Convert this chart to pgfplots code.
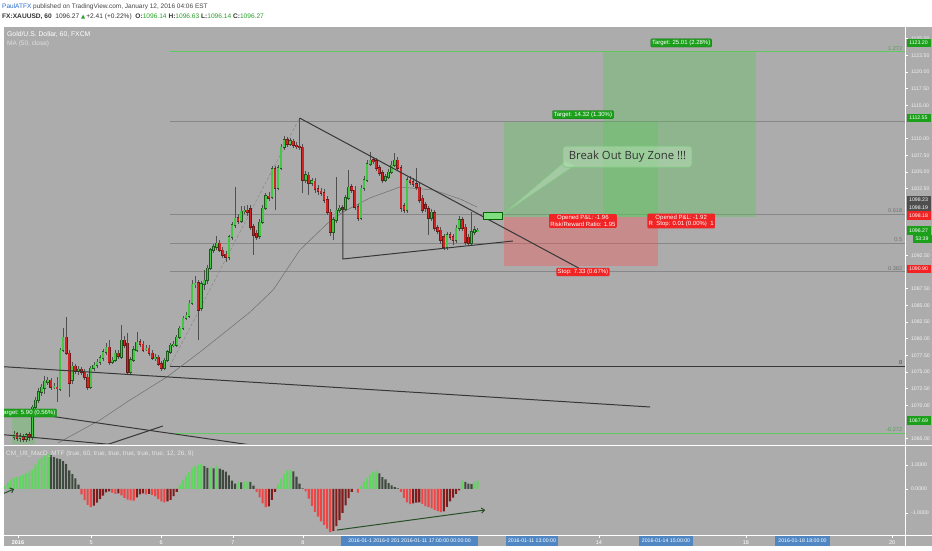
\documentclass[border=0pt]{standalone}
\usepackage{pgfplots}
\pgfplotsset{compat=1.18}
\usepackage{pgfplotstable}
\usepackage{fontspec}
\setmainfont{Liberation Sans}
\newfontfamily\dejavu{DejaVu Sans}
\newfontfamily\opensans{Open Sans}
\usetikzlibrary{arrows.meta}

\definecolor{chartbg}{RGB}{172,172,172}
\definecolor{candup}{RGB}{66,200,66}
\definecolor{canddn}{RGB}{210,36,36}
\definecolor{candupedge}{RGB}{30,90,30}
\definecolor{canddnedge}{RGB}{110,25,25}
\definecolor{wick}{RGB}{80,80,80}
\definecolor{maline}{RGB}{110,110,110}
\definecolor{trend}{RGB}{55,55,55}
\definecolor{fibgray}{RGB}{135,135,135}
\definecolor{fibgreen}{RGB}{96,200,96}
\definecolor{boxgreen}{RGB}{90,200,90}
\definecolor{boxred}{RGB}{255,80,80}
\definecolor{lblgreen}{RGB}{28,160,28}
\definecolor{lblred}{RGB}{240,36,36}
\definecolor{lbldark}{RGB}{78,78,78}
\definecolor{mgreen}{RGB}{96,214,96}
\definecolor{mdark}{RGB}{62,74,62}
\definecolor{mred}{RGB}{236,70,70}
\definecolor{mdred}{RGB}{128,28,28}
\definecolor{tvblue}{RGB}{40,110,200}
\definecolor{hdrtext}{RGB}{70,70,70}
\definecolor{txtgreen}{RGB}{40,160,40}
\definecolor{dateblue}{RGB}{80,135,195}
\definecolor{zonefill}{RGB}{180,220,180}
\definecolor{zoneedge}{RGB}{130,200,130}
\definecolor{arrowgreen}{RGB}{40,80,40}

% hourly XAUUSD bars, i = bar number
\pgfplotstableread{
i o h l c
1 1065.25 1066.15 1064.8 1065.7
2 1065.7 1066.0 1064.65 1065.1
3 1065.1 1065.85 1064.5 1065.4
4 1065.4 1065.7 1064.5 1064.95
5 1064.95 1065.85 1064.5 1065.55
6 1065.55 1066.0 1064.65 1065.25
7 1065.25 1070.05 1064.8 1069.75
8 1069.75 1071.25 1069.3 1070.8
9 1070.8 1072.6 1070.35 1072.0
10 1072.0 1073.2 1071.4 1072.75
11 1072.6 1074.4 1071.7 1073.65
12 1073.5 1074.25 1073.05 1073.8
13 1073.8 1074.1 1072.3 1072.75
14 1072.75 1073.35 1072.45 1072.9
15 1072.75 1074.25 1070.5 1072.6
16 1072.45 1078.6 1072.15 1078.3
17 1078.3 1081.6 1078.0 1080.25
18 1080.25 1083.25 1077.55 1077.85
19 1077.85 1078.3 1071.25 1073.35
20 1073.8 1076.5 1073.2 1075.9
21 1075.9 1076.2 1074.7 1075.15
22 1075.15 1075.9 1074.55 1075.45
23 1075.45 1075.75 1074.55 1075.0
24 1075.0 1075.45 1073.8 1074.25
25 1074.25 1074.7 1072.3 1072.75
26 1072.75 1075.9 1072.45 1075.6
27 1075.6 1076.5 1075.15 1076.05
28 1076.05 1076.95 1075.6 1076.5
29 1076.5 1077.55 1076.05 1077.1
30 1077.1 1078.45 1076.65 1078.0
31 1078.0 1079.35 1077.55 1078.75
32 1078.75 1079.8 1076.05 1076.5
33 1076.5 1077.25 1076.2 1076.8
34 1076.8 1078.3 1076.5 1077.85
35 1077.85 1078.3 1076.95 1077.4
36 1077.25 1082.05 1076.95 1079.8
37 1079.8 1080.4 1078.6 1079.05
38 1079.35 1080.85 1074.55 1075.0
39 1075.0 1077.25 1074.7 1076.8
40 1076.8 1078.9 1076.5 1078.3
41 1078.3 1081.0 1078.0 1079.5
42 1079.5 1079.95 1078.75 1079.2
43 1079.2 1079.65 1078.0 1078.3
44 1078.45 1079.05 1078.15 1078.6
45 1078.6 1079.05 1077.4 1077.85
46 1077.85 1078.3 1076.8 1077.1
47 1077.1 1077.7 1076.65 1077.25
48 1077.25 1077.55 1075.9 1076.2
49 1076.2 1076.65 1075.15 1075.6
50 1075.6 1077.1 1075.3 1076.8
51 1076.8 1078.3 1076.5 1078.0
52 1078.0 1079.35 1077.7 1079.05
53 1079.05 1079.65 1078.75 1079.2
54 1079.05 1080.55 1078.75 1080.25
55 1080.25 1081.9 1079.95 1081.6
56 1081.6 1083.4 1081.3 1083.1
57 1083.1 1084.0 1082.8 1083.55
58 1083.4 1085.8 1083.1 1085.35
59 1085.35 1088.8 1085.05 1088.2
60 1088.2 1089.4 1087.6 1088.35
61 1088.35 1088.8 1079.8 1084.3
62 1084.6 1088.65 1084.15 1088.2
63 1088.2 1090.3 1087.3 1088.8
64 1088.8 1091.05 1088.2 1090.6
65 1090.6 1093.6 1090.3 1093.3
66 1093.3 1094.2 1092.85 1093.75
67 1093.75 1095.4 1093.3 1094.35
68 1094.35 1094.8 1093.0 1093.3
69 1093.3 1093.75 1092.1 1092.55
70 1092.7 1093.15 1091.5 1092.25
71 1092.25 1095.55 1091.8 1095.25
72 1095.25 1097.5 1094.8 1097.05
73 1097.05 1102.75 1096.6 1098.1
74 1098.1 1098.7 1097.2 1097.65
75 1097.65 1099.9 1097.35 1099.15
76 1099.15 1099.9 1098.7 1099.3
77 1099.3 1100.05 1098.4 1099.0
78 1099.45 1100.05 1096.3 1096.75
79 1096.75 1097.2 1092.55 1095.55
80 1095.85 1096.3 1094.8 1095.25
81 1095.4 1097.95 1094.95 1097.5
82 1097.5 1100.05 1097.2 1099.6
83 1099.6 1101.85 1099.3 1101.4
84 1101.4 1102.0 1100.65 1101.1
85 1101.25 1105.9 1100.95 1105.45
86 1105.45 1105.9 1099.3 1102.6
87 1102.6 1106.05 1102.3 1105.6
88 1105.6 1109.2 1105.3 1108.75
89 1108.75 1110.4 1108.3 1109.8
90 1109.8 1110.25 1108.75 1109.2
91 1109.2 1110.1 1108.9 1109.65
92 1109.65 1109.95 1108.6 1109.05
93 1109.05 1109.5 1108.45 1108.9
94 1108.9 1113.1 1108.3 1108.75
95 1108.75 1109.2 1101.85 1103.8
96 1103.8 1105.15 1103.35 1104.55
97 1104.55 1105.0 1101.55 1103.35
98 1103.35 1104.1 1102.9 1103.65
99 1103.65 1104.1 1101.85 1102.45
100 1102.45 1103.05 1101.55 1102.15
101 1102.15 1102.6 1101.4 1101.85
102 1101.85 1102.45 1100.35 1100.8
103 1100.8 1101.4 1098.55 1099.0
104 1099.0 1099.45 1095.4 1096.0
105 1096.0 1098.25 1094.8 1097.8
106 1097.8 1104.25 1097.35 1099.3
107 1099.3 1100.05 1098.85 1099.6
108 1099.6 1100.05 1099.0 1099.45
109 1099.45 1101.55 1099.15 1101.1
110 1101.1 1105.3 1100.8 1102.75
111 1102.75 1103.2 1101.85 1102.3
112 1102.3 1102.9 1099.3 1099.75
113 1099.75 1100.2 1097.65 1098.1
114 1098.1 1103.05 1097.8 1102.6
115 1102.6 1104.4 1102.15 1103.8
116 1103.8 1106.8 1103.5 1106.2
117 1106.2 1108.0 1105.9 1106.8
118 1106.8 1107.25 1106.2 1106.65
119 1106.65 1107.1 1105.15 1105.6
120 1105.6 1106.05 1104.4 1104.85
121 1104.85 1105.3 1103.35 1103.8
122 1103.8 1104.7 1103.5 1104.25
123 1104.25 1105.45 1103.95 1105.0
124 1105.0 1106.65 1104.7 1106.05
125 1106.05 1107.85 1105.75 1106.8
126 1106.8 1107.25 1105.15 1105.6
127 1105.6 1106.05 1099.0 1099.6
128 1099.9 1100.35 1098.85 1099.3
129 1099.3 1104.25 1098.85 1103.8
130 1103.8 1104.4 1103.05 1103.5
131 1103.5 1104.1 1102.75 1103.2
132 1103.2 1105.6 1102.3 1102.75
133 1102.75 1103.35 1100.35 1100.8
134 1101.1 1101.55 1098.85 1099.3
135 1100.05 1100.5 1099.0 1099.6
136 1099.45 1099.9 1095.55 1098.1
137 1098.1 1099.45 1097.65 1099.0
138 1098.85 1099.3 1096.15 1096.6
139 1096.6 1097.05 1095.7 1096.15
140 1096.3 1096.75 1094.2 1094.8
141 1095.25 1095.7 1093.3 1093.75
142 1093.75 1096.0 1093.3 1095.55
143 1095.55 1096.0 1094.8 1095.25
144 1095.25 1095.7 1094.05 1094.8
145 1094.8 1097.05 1094.35 1096.6
146 1096.6 1098.4 1096.15 1097.8
147 1097.8 1098.25 1096.15 1096.6
148 1096.75 1097.2 1094.05 1094.5
149 1095.25 1095.7 1093.9 1094.35
150 1094.35 1099.0 1094.05 1096.0
151 1096.0 1096.9 1095.55 1096.3
152 1096.14 1096.63 1096.14 1096.27
}\candles

% MACD histogram, k: 1 up>0, 2 down>0, 3 down<0, 4 up<0
\pgfplotstableread{
i v k
-2 0.15 1
-1 0.28 1
0 0.40 1
1 0.47 1
2 0.51 1
3 0.54 1
4 0.60 1
5 0.66 1
6 0.74 1
7 0.82 1
8 1.02 1
9 1.22 1
10 1.30 1
11 1.38 1
12 1.45 1
13 1.41 2
14 1.33 2
15 1.28 2
16 1.25 2
17 1.16 2
18 1.05 2
19 0.78 2
20 0.62 2
21 0.44 2
22 0.18 2
23 -0.22 3
24 -0.46 3
25 -0.66 3
26 -0.76 3
27 -0.69 4
28 -0.57 4
29 -0.42 4
30 -0.28 4
31 -0.14 4
32 -0.10 4
33 -0.15 3
34 -0.20 3
35 -0.18 4
36 -0.27 3
37 -0.37 3
38 -0.44 3
39 -0.47 3
40 -0.48 3
41 -0.35 4
42 -0.22 4
43 -0.18 4
44 -0.22 3
45 -0.20 4
46 -0.25 3
47 -0.31 3
48 -0.42 3
49 -0.52 3
50 -0.56 3
51 -0.52 4
52 -0.45 4
53 -0.30 4
54 -0.12 4
55 0.17 1
56 0.37 1
57 0.56 1
58 0.71 1
59 0.86 1
60 0.96 1
61 1.00 1
62 1.04 1
63 0.95 2
64 0.88 2
65 0.90 1
66 0.86 2
67 0.97 1
68 0.85 2
69 0.80 2
70 0.72 2
71 0.57 2
72 0.35 2
73 0.22 2
74 0.30 1
75 0.28 2
76 0.30 1
77 0.32 1
78 0.30 2
79 0.14 2
80 -0.12 3
81 -0.35 3
82 -0.60 3
83 -0.76 3
84 -0.72 4
85 -0.45 4
86 -0.12 4
87 0.18 1
88 0.42 1
89 0.63 1
90 0.77 1
91 0.80 1
92 0.73 2
93 0.52 2
94 0.22 2
95 0.03 2
96 -0.10 3
97 -0.40 3
98 -0.70 3
99 -0.95 3
100 -1.15 3
101 -1.35 3
102 -1.50 3
103 -1.65 3
104 -1.80 3
105 -1.75 4
106 -1.55 4
107 -1.30 4
108 -1.00 4
109 -0.68 4
110 -0.38 4
111 -0.12 4
113 -0.15 3
114 0.12 1
115 0.30 1
116 0.45 1
117 0.60 1
118 0.70 1
119 0.76 1
120 0.65 2
121 0.50 2
122 0.40 2
123 0.25 2
124 0.15 2
125 0.08 2
126 0.03 2
127 -0.12 3
128 -0.37 3
129 -0.56 3
130 -0.63 3
131 -0.60 4
132 -0.57 4
133 -0.56 4
134 -0.62 3
135 -0.71 3
136 -0.76 3
137 -0.81 3
138 -0.87 3
139 -0.92 3
140 -0.96 3
141 -0.93 4
142 -0.75 4
143 -0.52 4
144 -0.36 4
145 -0.20 4
146 -0.06 4
147 0.35 1
148 0.30 2
149 0.22 2
150 0.20 2
151 0.30 1
152 0.35 1
}\macd

\tikzset{
  pl/.style={font=\fontsize{5.2}{6}\selectfont, text=white, inner sep=0pt,
    minimum width=24pt, minimum height=8.5pt, anchor=center},
  tgt/.style={fill=lblgreen, draw=lblgreen!70!black, line width=0.3pt, rounded corners=1pt,
    text=white, font=\fontsize{6}{7}\selectfont, inner sep=1.3pt},
  stp/.style={fill=lblred, rounded corners=1pt, text=white,
    font=\fontsize{6}{6.6}\selectfont, inner sep=1.3pt, align=center},
  fibl/.style={font=\fontsize{5.6}{6}\selectfont, anchor=south east, inner sep=0.8pt},
  datebox/.style={fill=dateblue, text=white, font=\fontsize{5.2}{6}\selectfont,
    inner sep=1pt, minimum height=9.5pt, anchor=center},
}
\pgfplotsset{
  candle/.style={forget plot, draw=none, mark=none,
    error bars/y dir=both, error bars/y explicit, error bars/error mark=none},
}

\begin{document}
\begin{tikzpicture}
\fill[white] (0pt,0pt) rectangle (932pt,550pt);
\fill[chartbg] (3pt,4pt) rectangle (932pt,523pt);
\useasboundingbox (0pt,0pt) rectangle (932pt,550pt);

% ---------------- price panel ----------------
\begin{axis}[
    at={(3pt,107pt)}, anchor=south west,
    width=902pt, height=416pt, scale only axis,
    xmin=-2.58, xmax=291.2, ymin=1064.35, ymax=1126.75,
    axis line style={draw=none},
    xtick=\empty,
    ytick={1065,1070,1072.5,1075,1077.5,1080,1082.5,1085,1087.5,1092.5,1102.5,1105,1107.5,1110,1115,1117.5,1120,1122.5,1125},
    ytick pos=right, yticklabel pos=right, scaled y ticks=false,
    tick align=outside, major tick length=2.5pt, tick style={white, line width=0.5pt},
    yticklabel style={font=\fontsize{5.2}{6}\selectfont, text=white!95!black,
      /pgf/number format/fixed, /pgf/number format/fixed zerofill,
      /pgf/number format/precision=2, /pgf/number format/1000 sep={},
      /pgf/number format/assume math mode=true},
]
% fibonacci levels
\addplot[fibgreen, line width=1pt] coordinates {(51.8,1123.0) (291.2,1123.0)};
\addplot[fibgray, line width=0.6pt] coordinates {(51.8,1112.55) (291.2,1112.55)};
\addplot[fibgray, line width=0.6pt] coordinates {(51.8,1098.7) (291.2,1098.7)};
\addplot[fibgray, line width=0.6pt] coordinates {(51.8,1094.35) (291.2,1094.35)};
\addplot[fibgray, line width=0.6pt] coordinates {(51.8,1090.1) (291.2,1090.1)};
\addplot[trend, line width=1pt] coordinates {(51.8,1075.9) (291.2,1075.9)};
\addplot[fibgreen, line width=1pt] coordinates {(51.8,1065.85) (291.2,1065.85)};
\addplot[fibgray, line width=0.5pt, densely dashed] coordinates {(51.8,1075.9) (94,1113.1)};
\node[fibl, text=fibgreen!80!black] at (290.6,1123.0) {1.272};
\node[fibl, text=black!55] at (290.6,1098.7) {0.618};
\node[fibl, text=black!55] at (290.6,1094.35) {0.5};
\node[fibl, text=black!55] at (290.6,1090.1) {0.382};
\node[fibl, text=black!75] at (290.6,1075.9) {0};
\node[fibl, text=fibgreen!80!black] at (290.6,1065.85) {-0.272};

% long position boxes
\addplot[draw=none, fill=boxgreen, fill opacity=0.35] coordinates {(0.35,1064.2) (7.8,1064.2) (7.8,1068.1) (0.35,1068.1)} -- cycle;
\addplot[draw=none, fill=boxgreen, fill opacity=0.35] coordinates {(160.6,1098.18) (210.8,1098.18) (210.8,1112.5) (160.6,1112.5)} -- cycle;
\addplot[draw=none, fill=boxred, fill opacity=0.35] coordinates {(160.6,1090.85) (210.8,1090.85) (210.8,1098.18) (160.6,1098.18)} -- cycle;
\addplot[draw=none, fill=boxgreen, fill opacity=0.35] coordinates {(192.9,1098.18) (242.7,1098.18) (242.7,1123.19) (192.9,1123.19)} -- cycle;

% moving average (50, close)
\addplot[maline, line width=0.5pt] coordinates {
  (15.3,1064.35) (29.0,1067.8) (38.8,1070.8) (50.8,1074.25) (61.6,1078.0)
  (71.4,1081.6) (77.9,1084.0) (85.4,1087.3) (94.1,1093.3) (103.9,1097.65)
  (108.2,1099.0) (116.9,1101.1) (126.7,1102.75) (137.5,1102.3) (146.3,1100.95) (151.8,1099.75)};

% candles: wicks, body edges, body fills
\addplot[candle, error bars/error bar style={line width=0.6pt, draw=wick}]
  table[x=i, y expr={(\thisrow{h}+\thisrow{l})/2}, y error expr={(\thisrow{h}-\thisrow{l})/2}] {\candles};
\addplot[candle, restrict expr to domain={\thisrow{c}-\thisrow{o}}{0:100},
  error bars/error bar style={line width=2.7pt, draw=candupedge}]
  table[x=i, y expr={(\thisrow{o}+\thisrow{c})/2}, y error expr={abs(\thisrow{c}-\thisrow{o})/2+0.08}] {\candles};
\addplot[candle, restrict expr to domain={\thisrow{c}-\thisrow{o}}{-100:-0.001},
  error bars/error bar style={line width=2.7pt, draw=canddnedge}]
  table[x=i, y expr={(\thisrow{o}+\thisrow{c})/2}, y error expr={abs(\thisrow{c}-\thisrow{o})/2+0.08}] {\candles};
\addplot[candle, restrict expr to domain={\thisrow{c}-\thisrow{o}}{0:100},
  error bars/error bar style={line width=1.8pt, draw=candup}]
  table[x=i, y expr={(\thisrow{o}+\thisrow{c})/2}, y error expr={max(abs(\thisrow{c}-\thisrow{o})/2,0.04)}] {\candles};
\addplot[candle, restrict expr to domain={\thisrow{c}-\thisrow{o}}{-100:-0.001},
  error bars/error bar style={line width=1.8pt, draw=canddn}]
  table[x=i, y expr={(\thisrow{o}+\thisrow{c})/2}, y error expr={max(abs(\thisrow{c}-\thisrow{o})/2,0.04)}] {\candles};

% trend lines
\addplot[trend, line width=1pt] coordinates {(94,1113.1) (186.3,1090.25)};
\addplot[trend, line width=1pt] coordinates {(108.1,1099.6) (108.1,1091.95) (163.5,1094.65)};
\addplot[trend, line width=1pt] coordinates {(-2.58,1075.8) (208.2,1069.75)};
\addplot[trend, line width=1pt] coordinates {(-2.58,1069.4) (94.1,1063.0)};
\addplot[trend, line width=1pt] coordinates {(-2.58,1065.6) (45.3,1063.6)};
\addplot[trend, line width=1pt] coordinates {(30,1063.9) (49.5,1066.9)};

% break-out zone and call-out
\addplot[draw=green!40!black, line width=0.6pt, fill=mgreen!80!white] coordinates {(153.8,1097.95) (159.9,1097.95) (159.9,1099.0) (153.8,1099.0)} -- cycle;
\addplot[draw=zoneedge, line width=0.5pt, fill=zonefill, fill opacity=0.55] coordinates {(180.5,1106.6) (183.7,1106.0) (160.3,1098.7)} -- cycle;
\node[draw=zoneedge, line width=0.8pt, fill=zonefill, fill opacity=0.55, text opacity=1,
  rounded corners=3pt, minimum width=129pt, minimum height=21pt, inner sep=0pt,
  font=\opensans\fontsize{11.3}{12}\selectfont, text=black!80]
  at (200.8,1107.3) {Break Out Buy Zone !!!};

% position labels
\node[tgt] at (5.5,1068.85) {Target: 5.90 (0.56\%)};
\node[tgt] at (186.3,1113.6) {Target: 14.32 (1.30\%)};
\node[tgt] at (218.3,1124.35) {Target: 25.01 (2.28\%)};
\node[stp] at (186.3,1097.65) {Opened P\&L: -1.96\\Risk/Reward Ratio: 1.95};
\node[stp] at (218.3,1097.65) {Opened P\&L: -1.92\\R\ \ Stop: 0.01 (0.00\%)\ \ 1};
\node[stp] at (186.3,1090.0) {Stop: 7.33 (0.67\%)};
\end{axis}

% ---------------- MACD panel ----------------
\begin{axis}[
    at={(3pt,15pt)}, anchor=south west,
    width=902pt, height=88pt, scale only axis,
    xmin=-2.58, xmax=291.2, ymin=-1.917, ymax=1.75,
    axis line style={draw=none},
    xtick={2.3,26.1,48.9,72.3,95.1,191.5,239.4,287},
    xticklabels={\textbf{2016},5,6,7,8,14,18,20},
    xtick pos=bottom,
    ytick={-1,0,1}, ytick pos=right, yticklabel pos=right,
    tick align=outside, major tick length=2.5pt, tick style={white, line width=0.5pt},
    xticklabel style={font=\fontsize{5.5}{6}\selectfont, text=white},
    yticklabel style={font=\fontsize{5.2}{6}\selectfont, text=white!95!black,
      /pgf/number format/fixed, /pgf/number format/fixed zerofill,
      /pgf/number format/precision=4, /pgf/number format/assume math mode=true},
]
\addplot[ybar, bar width=2.1pt, bar shift=0pt, draw=none, fill=mgreen,
  restrict expr to domain={\thisrow{k}}{1:1}] table[x=i, y=v] {\macd};
\addplot[ybar, bar width=2.1pt, bar shift=0pt, draw=none, fill=mdark,
  restrict expr to domain={\thisrow{k}}{2:2}] table[x=i, y=v] {\macd};
\addplot[ybar, bar width=2.1pt, bar shift=0pt, draw=none, fill=mred,
  restrict expr to domain={\thisrow{k}}{3:3}] table[x=i, y=v] {\macd};
\addplot[ybar, bar width=2.1pt, bar shift=0pt, draw=none, fill=mdred,
  restrict expr to domain={\thisrow{k}}{4:4}] table[x=i, y=v] {\macd};
\addplot[arrowgreen, line width=1pt, -{To[length=4pt,width=6pt]}] coordinates {(106.2,-1.71) (154.4,-0.875)};
\addplot[arrowgreen, line width=1pt, -{To[length=4pt,width=6pt]}] coordinates {(-2.6,-0.2) (1.0,0.0)};
\end{axis}

% panel separators
\draw[white, line width=0.8pt] (3pt,105pt) -- (932pt,105pt);
\draw[white, line width=0.8pt] (3pt,15pt) -- (932pt,15pt);
\draw[white, line width=0.8pt] (905pt,4pt) -- (905pt,523pt);
\draw[white, line width=0.8pt] (3.4pt,4pt) -- (3.4pt,523pt);

% header
\node[anchor=base west, inner sep=0pt, font=\fontsize{6.5}{7}\selectfont] at (2pt,541.5pt)
  {\textcolor{tvblue}{PaulATFX} \textcolor{hdrtext}{published on TradingView.com, January 12, 2016 04:06 EST}};
\node[anchor=base west, inner sep=0pt, font=\fontsize{6.6}{7}\selectfont, text=black!80] at (2pt,531.5pt)
  {\textbf{FX:XAUUSD, 60}\ \ 1096.27 {\dejavu\fontsize{5.4}{6}\selectfont\textcolor{txtgreen}{▲}}\,+2.41 (+0.22\%)\ \ \textbf{O:}\textcolor{txtgreen}{1096.14} \textbf{H:}\textcolor{txtgreen}{1096.63} \textbf{L:}\textcolor{txtgreen}{1096.14} \textbf{C:}\textcolor{txtgreen}{1096.27}};

% legends inside panels
\node[anchor=base west, inner sep=0pt, font=\fontsize{6.8}{7}\selectfont, text=white] at (7pt,513pt) {Gold/U.S. Dollar, 60, FXCM};
\node[anchor=base west, inner sep=0pt, font=\fontsize{6.5}{7}\selectfont, text=white!88!black] at (7pt,504pt) {MA (50, close)};
\node[anchor=base west, inner sep=0pt, font=\fontsize{6.4}{7}\selectfont, text=white!90!black] at (6pt,95pt) {CM\_Ult\_MacD\_MTF (true, 60, true, true, true, true, true, 12, 26, 9)};

% price scale markers
\node[pl, fill=lblgreen] at (918.5pt,507pt) {1123.20};
\node[pl, fill=lblgreen] at (918.5pt,432pt) {1112.55};
\node[pl, fill=lbldark] at (918.5pt,350pt) {1098.23};
\node[pl, fill=lbldark] at (918.5pt,342.5pt) {1098.19};
\node[pl, fill=lblred] at (918.5pt,334.5pt) {1098.18};
\node[pl, fill=lblgreen] at (918.5pt,319.5pt) {1096.27};
\node[pl, fill=lblgreen, minimum width=19pt] at (922pt,311pt) {53:39};
\node[pl, fill=lblred] at (918.5pt,281pt) {1090.90};
\node[pl, fill=lblgreen] at (918.5pt,129.5pt) {1067.69};

% date markers on the time scale
\node[datebox, minimum width=137pt] at (409.5pt,9pt) {2016-01-1\ 2016-0\ 201\ 2016-01-11 17:00:00\ 00:00:00};
\node[datebox, minimum width=52pt] at (532pt,9pt) {2016-01-11 13:00:00};
\node[datebox, minimum width=54pt] at (666pt,9pt) {2016-01-14 15:00:00};
\node[datebox, minimum width=55pt] at (802.5pt,9pt) {2016-01-18 18:00:00};
\end{tikzpicture}
\end{document}
